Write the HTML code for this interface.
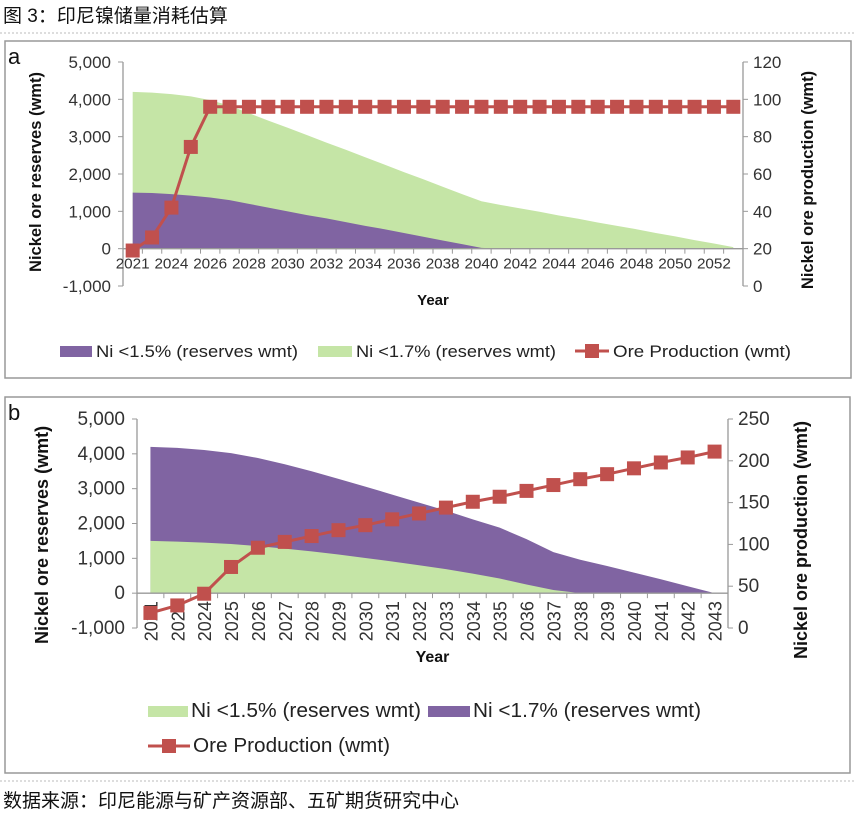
<!DOCTYPE html>
<html><head><meta charset="utf-8">
<style>
html,body{margin:0;padding:0;background:#fff;}
body{width:855px;height:816px;overflow:hidden;font-family:"Liberation Sans","Noto Sans CJK SC",sans-serif;}
svg{display:block;}
</style></head>
<body>
<svg id="fig" width="855" height="816" viewBox="0 0 855 816" xmlns="http://www.w3.org/2000/svg">
  <text x="3" y="22" font-size="19" fill="#111" font-family="'Liberation Sans','Noto Sans CJK SC',sans-serif">图 3：印尼镍储量消耗估算</text>
  <line x1="0" y1="33" x2="855" y2="33" stroke="#bbb" stroke-dasharray="2,2"/>
  <rect x="5" y="41" width="846" height="337" fill="#fff" stroke="#999" stroke-width="1.5"/>
  <rect x="5" y="397" width="845" height="376" fill="#fff" stroke="#999" stroke-width="1.5"/>
  <line x1="0" y1="781" x2="855" y2="781" stroke="#bbb" stroke-dasharray="2,2"/>
  <text x="3" y="807" font-size="19" fill="#111" font-family="'Liberation Sans','Noto Sans CJK SC',sans-serif">数据来源：印尼能源与矿产资源部、五矿期货研究中心</text>
  <g id="pa"></g>
  <g id="pb"></g>
</svg>
<script>
// ---- Chart A data ----
const catsA = ["2021","2022","2023","2024","2025","2026","2027","2028","2029","2030","2031","2032","2033","2034","2035","2036","2037","2038","2039","2040","2041","2042","2043","2044","2045","2046","2047","2048","2049","2050","2051","2052"];
const tickLabelsA = ["2021","2024","2026","2028","2030","2032","2034","2036","2038","2040","2042","2044","2046","2048","2050","2052"];
const lowA = [1500,1490,1460,1420,1370,1300,1200,1100,1000,900,810,710,610,520,420,320,220,120,20,0,0,0,0,0,0,0,0,0,0,0,0,0];
const highA = [4200,4180,4140,4080,3980,3830,3630,3430,3240,3040,2840,2650,2450,2250,2050,1860,1660,1460,1270,1170,1080,990,890,800,700,610,520,420,330,230,140,40];
const prodA = [19,26,42,74.5,96,96,96,96,96,96,96,96,96,96,96,96,96,96,96,96,96,96,96,96,96,96,96,96,96,96,96,96];
const leftTicksA = [5000,4000,3000,2000,1000,0,-1000];
const rightTicksA = [120,100,80,60,40,20,0];
// ---- Chart B data ----
const catsB = ["2021","2022","2024","2025","2026","2027","2028","2029","2030","2031","2032","2033","2034","2035","2036","2037","2038","2039","2040","2041","2042","2043"];
const lowB = [1500,1480,1450,1410,1350,1280,1200,1110,1010,910,800,690,560,420,250,90,0,0,0,0,0,0];
const highB = [4200,4170,4110,4020,3880,3700,3500,3280,3060,2830,2600,2370,2120,1880,1550,1180,960,780,590,400,200,0];
const prodB = [18,27,41,73,96,103,110,117,123,130,137,144,151,157,164,171,178,184,191,198,204,211];
const leftTicksB = [5000,4000,3000,2000,1000,0,-1000];
const rightTicksB = [250,200,150,100,50,0];

const NS="http://www.w3.org/2000/svg";
const PURPLE="#8064a2", GREEN="#c5e5a6", RED="#c0504d";
function mk(parent,tag,attrs){const e=document.createElementNS(NS,tag);for(const k in attrs)e.setAttribute(k,attrs[k]);parent.appendChild(e);return e;}
function fmt(v){return v.toLocaleString("en-US");}

function draw(g,cfg){
  const x0=cfg.x0,x1=cfg.x1,n=cfg.cats.length,w=(x1-x0)/n;
  const cx=i=>x0+w*(i+0.5);
  const yL=v=>cfg.yTop+(cfg.lMax-v)/(cfg.lMax-cfg.lMin)*(cfg.yBot-cfg.yTop);
  const yR=v=>cfg.yTop+(cfg.rMax-v)/(cfg.rMax-cfg.rMin)*(cfg.yBot-cfg.yTop);
  const areaPath=(vals)=>{let d="M"+cx(0)+","+yL(0);vals.forEach((v,i)=>{d+=" L"+cx(i)+","+yL(v);});d+=" L"+cx(n-1)+","+yL(0)+" Z";return d;};
  const back=mk(g,"path",{d:areaPath(cfg.highVals),fill:cfg.highColor});
  
  
  const front=mk(g,"path",{d:areaPath(cfg.lowVals),fill:cfg.lowColor});
  
  
  const la=mk(g,"line",{x1:x0,y1:cfg.yTop,x2:x0,y2:cfg.yBot,stroke:"#999","stroke-width":1.3});
  
  
  const ra=mk(g,"line",{x1:x1,y1:cfg.yTop,x2:x1,y2:cfg.yBot,stroke:"#999","stroke-width":1.3});
  
  
  const xa=mk(g,"line",{x1:x0,y1:yL(0),x2:x1,y2:yL(0),stroke:"#999","stroke-width":1.3});
  
  
  for(let i=0;i<=n;i++){const t=mk(g,"line",{x1:x0+w*i,y1:yL(0),x2:x0+w*i,y2:yL(0)+5,stroke:"#999"});}
  cfg.lTicks.forEach(v=>{
    const t=mk(g,"line",{x1:x0-5,y1:yL(v),x2:x0,y2:yL(v),stroke:"#999"});
    
    
    const tx=mk(g,"text",{x:x0-12,y:yL(v)+6,"text-anchor":"end","font-size":cfg.tickSize,fill:"#333"});tx.textContent=fmt(v);
    
    
  });
  cfg.rTicks.forEach(v=>{
    const t=mk(g,"line",{x1:x1,y1:yR(v),x2:x1+5,y2:yR(v),stroke:"#999"});
    
    
    const tx=mk(g,"text",{x:x1+10,y:yR(v)+6,"font-size":cfg.tickSize,fill:"#333"});tx.textContent=fmt(v);
    
    
  });
  cfg.xLabels.forEach((lab,k)=>{
    const i=cfg.labelIdx(k);
    let tx;
    if(cfg.rotate){
      tx=mk(g,"text",{x:0,y:0,"text-anchor":"end","font-size":18,fill:"#333",transform:"translate("+(cx(i)+7)+","+(yL(0)+8)+") rotate(-90)"});
    } else {
      tx=mk(g,"text",{x:cx(i),y:yL(0)+20,"text-anchor":"middle","font-size":15,fill:"#333",textLength:34,lengthAdjust:"spacingAndGlyphs"});
    }
    tx.textContent=lab;
    
    
  });
  let d="";cfg.prod.forEach((v,i)=>{d+=(i?" L":"M")+cx(i)+","+yR(v);});
  const ln=mk(g,"path",{d:d,fill:"none",stroke:RED,"stroke-width":3});
  
  
  cfg.prod.forEach((v,i)=>{
    const m=mk(g,"rect",{x:cx(i)-7,y:yR(v)-7,width:14,height:14,fill:RED});
    
    
  });
  const yt=mk(g,"text",{x:(x0+x1)/2,y:cfg.xTitleY,"text-anchor":"middle","font-size":cfg.xtSize,"font-weight":"bold",fill:"#111"});yt.textContent="Year";
  
  
  const lt=mk(g,"text",{x:0,y:0,"text-anchor":"middle","font-size":cfg.ytSize,"font-weight":"bold",fill:"#111",transform:"translate("+cfg.lTitleX+","+cfg.lTitleY+") rotate(-90)"});lt.textContent="Nickel ore reserves (wmt)";
  
  
  const rt=mk(g,"text",{x:0,y:0,"text-anchor":"middle","font-size":cfg.ytSize,"font-weight":"bold",fill:"#111",transform:"translate("+cfg.rTitleX+","+cfg.rTitleY+") rotate(-90)"});rt.textContent="Nickel ore production (wmt)";
  
  
  const pl=mk(g,"text",{x:cfg.panelX,y:cfg.panelY,"font-size":22,fill:"#111"});pl.textContent=cfg.panel;
  
  
}

draw(document.getElementById("pa"),{
  cats:catsA,x0:123,x1:743,yTop:62,yBot:286,lMax:5000,lMin:-1000,rMax:120,rMin:0,
  lowVals:lowA,highVals:highA,lowColor:PURPLE,highColor:GREEN,lowName:"area-ni-below-1-5",highName:"area-ni-below-1-7",
  lTicks:leftTicksA,rTicks:rightTicksA,prod:prodA,xLabels:tickLabelsA,labelIdx:k=>k*2,rotate:false,tickSize:17,
  xTitleY:305,xtSize:15,lTitleX:41,lTitleY:172,rTitleX:813,rTitleY:180,ytSize:16.5,panel:"a",panelX:8,panelY:64
});
draw(document.getElementById("pb"),{
  cats:catsB,x0:137,x1:728,yTop:419,yBot:628,lMax:5000,lMin:-1000,rMax:250,rMin:0,
  lowVals:lowB,highVals:highB,lowColor:GREEN,highColor:PURPLE,lowName:"area-ni-below-1-5",highName:"area-ni-below-1-7",
  lTicks:leftTicksB,rTicks:rightTicksB,prod:prodB,xLabels:catsB,labelIdx:k=>k,rotate:true,tickSize:19,
  xTitleY:662,xtSize:16,lTitleX:48,lTitleY:535,rTitleX:807,rTitleY:540,ytSize:18,panel:"b",panelX:8,panelY:420
});

const svg=document.getElementById("fig");
function legendSwatch(x,y,w,color,name){const r=mk(svg,"rect",{x:x,y:y-5,width:w,height:11,fill:color});}
function legendText(x,y,t,size,len,name){const e=mk(svg,"text",{x:x,y:y+6,"font-size":size,fill:"#222",textLength:len,lengthAdjust:"spacingAndGlyphs"});e.textContent=t;}
function legendLine(x,y,w,name){const l=mk(svg,"line",{x1:x,y1:y,x2:x+w,y2:y,stroke:RED,"stroke-width":3});const m=mk(svg,"rect",{x:x+w/2-7,y:y-7,width:14,height:14,fill:RED});}
legendSwatch(60,351,32,PURPLE,"legend-a-swatch-1-5");
legendText(96,351,"Ni <1.5% (reserves wmt)",17,202,"legend-a-label-1-5");
legendSwatch(318,351,34,GREEN,"legend-a-swatch-1-7");
legendText(356,351,"Ni <1.7% (reserves wmt)",17,200,"legend-a-label-1-7");
legendLine(575,351,34,"legend-a-production");
legendText(613,351,"Ore Production (wmt)",17,178,"legend-a-label-production");

legendSwatch(148,711,40,GREEN,"legend-b-swatch-1-5");
legendText(191,711,"Ni <1.5% (reserves wmt)",20,230,"legend-b-label-1-5");
legendSwatch(428,711,42,PURPLE,"legend-b-swatch-1-7");
legendText(473,711,"Ni <1.7% (reserves wmt)",20,228,"legend-b-label-1-7");
legendLine(148,746,42,"legend-b-production");
legendText(193,746,"Ore Production (wmt)",20,197,"legend-b-label-production");
</script>
</body></html>
